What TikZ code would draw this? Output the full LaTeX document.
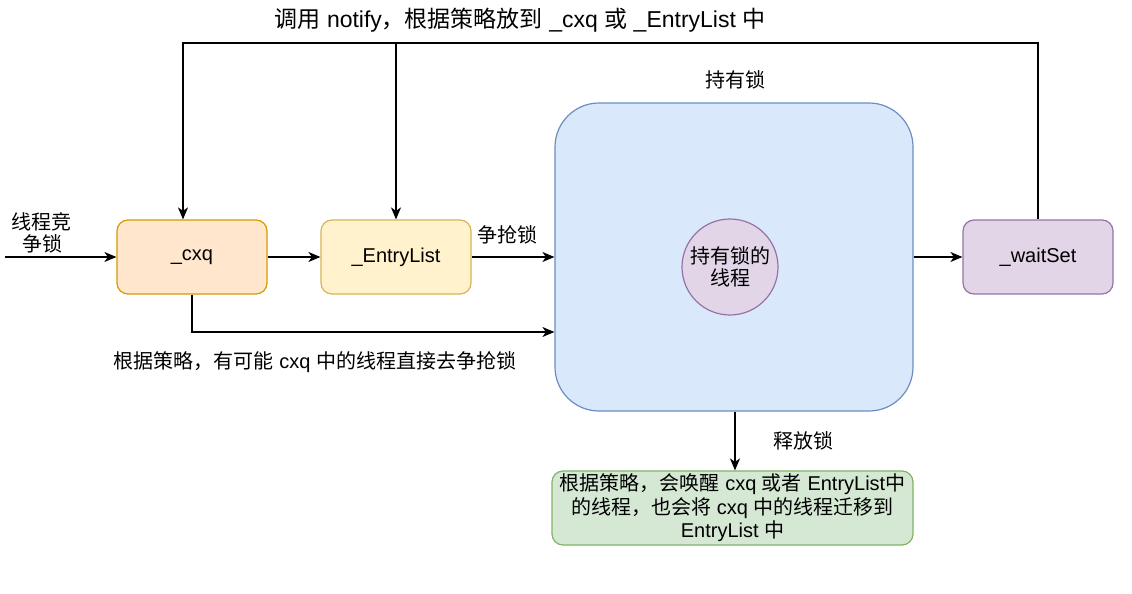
\documentclass[tikz,border=0pt]{standalone}
\usepackage{fontspec}
\setmainfont{Liberation Sans}
\newfontfamily\cjk{Noto Sans CJK SC}
\newcommand{\zh}[1]{{\cjk #1}}
\usetikzlibrary{arrows.meta}
\definecolor{cxqF}{HTML}{FFE6CC}\definecolor{cxqS}{HTML}{D79B00}
\definecolor{entF}{HTML}{FFF2CC}\definecolor{entS}{HTML}{D6B656}
\definecolor{bluF}{HTML}{DAE8FC}\definecolor{bluS}{HTML}{6C8EBF}
\definecolor{purF}{HTML}{E1D5E7}\definecolor{purS}{HTML}{9673A6}
\definecolor{grnF}{HTML}{D5E8D4}\definecolor{grnS}{HTML}{82B366}
\tikzset{
  box/.style={draw, line width=1.2pt, rounded corners=11pt, minimum width=150pt, minimum height=74pt, font=\fontsize{20}{22}\selectfont},
  arr/.style={line width=1.2pt, -{Stealth[length=12pt,width=10pt,inset=3.5pt]}},
  lbl/.style={font=\fontsize{20}{22}\selectfont, align=center, inner sep=0pt}
}
\begin{document}
\begin{tikzpicture}[x=1pt,y=-1pt]
\path[use as bounding box, fill=white] (0,0) rectangle (1132,594);
\node[box, fill=cxqF, draw=cxqS] (cxq) at (192,257) {\_cxq};
\node[box, fill=entF, draw=entS] (ent) at (396,257) {\_EntryList};
\node[box, fill=bluF, draw=bluS, rounded corners=44pt, minimum width=358pt, minimum height=308pt] (big) at (734,257) {};
\node[box, circle, fill=purF, draw=purS, minimum size=96pt, align=center, font=\fontsize{20}{22}\selectfont\cjk, inner sep=0pt] (own) at (730,267) {持有锁的\\线程};
\node[box, fill=purF, draw=purS] (wait) at (1038,257) {\_waitSet};
\node[box, fill=grnF, draw=grnS, minimum width=361pt, align=center, font=\fontsize{20}{23.5}\selectfont, inner sep=2pt] (rel) at (732.5,508) {\zh{根据策略，会唤醒} cxq \zh{或者} EntryList\zh{中}\\\zh{的线程，也会将} cxq \zh{中的线程迁移到}\\EntryList \zh{中}};
\coordinate (src) at (5,257);
\coordinate (tl) at (0,43);
\coordinate (bl) at (0,332);
% labels
\node[lbl, font=\fontsize{23}{26}\selectfont] (ttl) at (520,20) {\zh{调用} notify\zh{，根据策略放到} \_cxq \zh{或} \_EntryList \zh{中}};
\node[lbl] (hold) at (735,80) {\zh{持有锁}};
\node[lbl] (comp) at (42,233) {\zh{线程竞}\\\zh{争锁}};
\node[lbl] (grab) at (507,235) {\zh{争抢锁}};
\node[lbl] (direct) at (315,362) {\zh{根据策略，有可能} cxq \zh{中的线程直接去争抢锁}};
\node[lbl] (free) at (803,441) {\zh{释放锁}};
% connectors
\draw[arr] (src) -- (cxq.west);
\draw[arr] (cxq.east) -- (ent.west);
\draw[arr] (ent.east) -- (big.west |- ent.east);
\draw[arr] (cxq.south) |- (big.west |- bl);
\draw[arr] (big.east |- wait.west) -- (wait.west);
\draw[arr] (wait.north) |- ([xshift=-9pt]cxq.north |- tl) -- ([xshift=-9pt]cxq.north);
\draw[arr] (ent.north |- tl) -- (ent.north);
\draw[arr] (big.south -| rel.north) ++(2.5,0) coordinate (bs) -- (bs |- rel.north);
\end{tikzpicture}
\end{document}
